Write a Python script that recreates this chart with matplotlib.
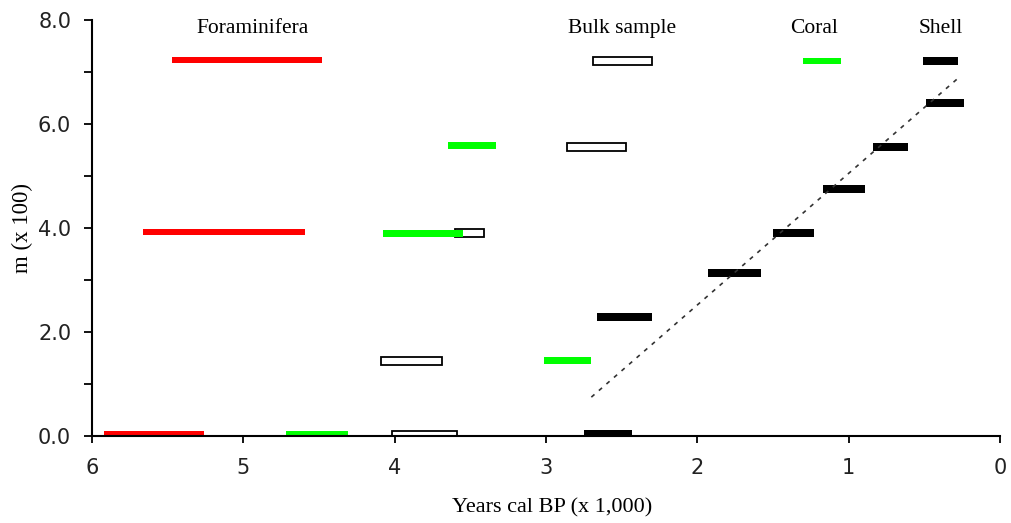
"""
Radiocarbon age ranges by depth and material type.
"""

import matplotlib.pyplot as plt

# Age ranges (cal BP x 1,000): older end, younger end, depth (m x 100)
foram_old = [5.47, 5.66, 5.92]
foram_young = [4.48, 4.59, 5.26]
foram_depth = [7.23, 3.92, 0.03]

bulk_old = [2.69, 2.86, 3.60, 4.09, 4.02]
bulk_young = [2.30, 2.47, 3.41, 3.69, 3.59]
bulk_depth = [7.21, 5.56, 3.90, 1.44, 0.03]

coral_old = [1.30, 3.65, 4.08, 3.01, 4.72]
coral_young = [1.05, 3.33, 3.55, 2.70, 4.31]
coral_depth = [7.21, 5.58, 3.90, 1.46, 0.03]

shell_old = [0.51, 0.49, 0.84, 1.17, 1.50, 1.93, 2.66, 2.75]
shell_young = [0.28, 0.24, 0.61, 0.89, 1.23, 1.58, 2.30, 2.43]
shell_depth = [7.21, 6.40, 5.56, 4.75, 3.90, 3.13, 2.29, 0.03]

# Age-depth trend line
trend_age = [2.70, 0.28]
trend_depth = [0.75, 6.87]

group_names = ['Foraminifera', 'Bulk sample', 'Coral', 'Shell']
group_label_x = [4.94, 2.50, 1.23, 0.39]


def widths(old, young):
    return [o - y for o, y in zip(old, young)]


fig = plt.figure(figsize=(10.11, 5.23), dpi=100)
ax = fig.add_axes([0.091, 0.166, 0.898, 0.796])

ax.barh(foram_depth, widths(foram_old, foram_young), left=foram_young,
        height=0.12, color='#ff0000', zorder=3)
ax.barh(bulk_depth, widths(bulk_old, bulk_young), left=bulk_young,
        height=0.15, color='white', edgecolor='black', linewidth=1.3, zorder=2)
ax.barh(coral_depth, widths(coral_old, coral_young), left=coral_young,
        height=0.13, color='#00ff00', zorder=3)
ax.barh(shell_depth, widths(shell_old, shell_young), left=shell_young,
        height=0.16, color='black', zorder=3)

ax.plot(trend_age, trend_depth, color='#333333', linewidth=1.2,
        linestyle=(0, (2.5, 3.5)), zorder=4)

for name, x in zip(group_names, group_label_x):
    ax.text(x, 7.83, name, ha='center', va='center',
            family='Liberation Serif', fontsize=15.5)

ax.set_xlim(6, 0)
ax.set_ylim(0, 8)
ax.set_xticks(range(0, 7))
ax.set_xticklabels(['0', '1', '2', '3', '4', '5', '6'])
ax.set_yticks(range(0, 9), minor=True)
ax.set_yticks([0, 2, 4, 6, 8])
ax.set_yticklabels(['0.0', '2.0', '4.0', '6.0', '8.0'])

for side in ['top', 'right']:
    ax.spines[side].set_visible(False)
for side in ['left', 'bottom']:
    ax.spines[side].set_linewidth(1.5)
    ax.spines[side].set_zorder(5)

ax.tick_params(axis='y', which='both', direction='out', length=6, width=1.3,
               pad=9, labelsize=15, labelcolor='#222222')
ax.tick_params(axis='x', direction='out', length=5, width=1.3, pad=11,
               labelsize=15, labelcolor='#222222')

ax.set_xlabel('Years cal BP (x 1,000)', family='Liberation Serif', fontsize=16,
              va='center')
ax.set_ylabel('m (x 100)', family='Liberation Serif', fontsize=16.5,
              va='center')
ax.xaxis.set_label_coords(0.507, -0.173)
ax.yaxis.set_label_coords(-0.077, 0.5)

fig.savefig('out.png', dpi=100)
